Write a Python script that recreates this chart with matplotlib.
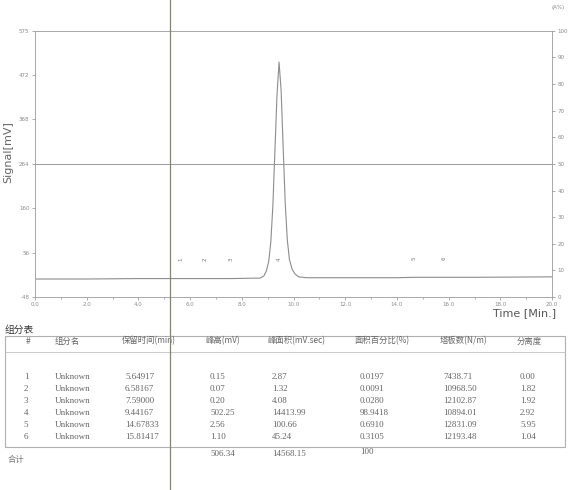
import matplotlib
matplotlib.use("Agg")
import matplotlib.pyplot as plt
from matplotlib.lines import Line2D
from matplotlib.patches import Rectangle

# ---- chromatogram data ----
time_min = [0.0, 2.0, 4.0, 5.65, 6.58, 7.59, 8.5, 8.7, 8.85, 8.95, 9.04, 9.12, 9.20,
            9.28, 9.36, 9.44, 9.52, 9.60, 9.68, 9.76, 9.84, 9.94, 10.05, 10.2, 10.5,
            12.0, 14.0, 14.68, 15.81, 17.0, 20.0]
signal_mv = [-6, -6, -5, -5, -5, -5, -4, -4, 1, 13, 35, 80, 165,
             295, 425, 502, 435, 300, 170, 85, 40, 18, 6, -1, -3,
             -3, -3, -2, -2, -2, -1]
ref_level = 264

peak_ids = ["1", "2", "3", "4", "5", "6"]
peak_rt = [5.64917, 6.58167, 7.59000, 9.44167, 14.67833, 15.81417]
peak_label_y = [40, 40, 40, 40, 42, 42]

x_ticks = [0, 2, 4, 6, 8, 10, 12, 14, 16, 18, 20]
x_ticklabels = ["0.0", "2.0", "4.0", "6.0", "8.0", "10.0", "12.0", "14.0", "16.0", "18.0", "20.0"]
y_ticks = [-48, 56, 160, 264, 368, 472, 575]
y_ticklabels = ["-48", "56", "160", "264", "368", "472", "575"]
r_ticks = [0, 10, 20, 30, 40, 50, 60, 70, 80, 90, 100]

# ---- table data ----
tbl_title = "组分表"
tbl_headers = ["#", "组分名", "保留时间(min)", "峰高(mV)", "峰面积(mV.sec)", "面积百分比(%)", "塔板数(N/m)", "分离度"]
row_idx = ["1", "2", "3", "4", "5", "6"]
row_name = ["Unknown"] * 6
row_rt = ["5.64917", "6.58167", "7.59000", "9.44167", "14.67833", "15.81417"]
row_height = ["0.15", "0.07", "0.20", "502.25", "2.56", "1.10"]
row_area = ["2.87", "1.32", "4.08", "14413.99", "100.66", "45.24"]
row_pct = ["0.0197", "0.0091", "0.0280", "98.9418", "0.6910", "0.3105"]
row_plates = ["7438.71", "10968.50", "12102.87", "10894.01", "12831.09", "12193.48"]
row_res = ["0.00", "1.82", "1.92", "2.92", "5.95", "1.04"]
total_label = "合计"
total_height = "506.34"
total_area = "14568.15"
total_pct = "100"

cjk = ["Noto Sans CJK SC", "DejaVu Sans"]
serif = ["Liberation Serif", "Noto Sans CJK SC"]
plt.rcParams['font.family'] = ["DejaVu Sans", "Noto Sans CJK SC"]

fig = plt.figure(figsize=(5.83, 4.90), dpi=100)
fig.patch.set_facecolor("white")

spine_c = "#a8a8a8"
tick_c = "#8a8a8a"

ax = fig.add_axes([0.060, 0.394, 0.887, 0.543])
ax.plot(time_min, signal_mv, color="#8c8c8c", lw=0.8)
ax.axhline(ref_level, color="#9a9a9a", lw=0.7)
for pid, rt, ly in zip(peak_ids, peak_rt, peak_label_y):
    ax.text(rt, ly, pid, rotation=90, fontsize=4, color="#777777", ha="center", va="center")
ax.set_xlim(0, 20)
ax.set_ylim(-48, 575)
ax.set_xticks(x_ticks)
ax.set_xticklabels(x_ticklabels)
ax.set_xticks([1, 3, 5, 7, 9, 11, 13, 15, 17, 19], minor=True)
ax.set_yticks(y_ticks)
ax.set_yticklabels(y_ticklabels)
ax.tick_params(axis="both", labelsize=4, colors=tick_c, length=2.5, width=0.5, pad=1.5)
ax.tick_params(axis="x", which="minor", length=1.5, width=0.5, colors=tick_c)
for s in ax.spines.values():
    s.set_color(spine_c)
    s.set_linewidth(0.7)

ax2 = ax.twinx()
ax2.set_ylim(0, 100)
ax2.set_yticks(r_ticks)
ax2.tick_params(axis="y", labelsize=4, colors=tick_c, length=2.5, width=0.5, pad=1.5)
for s in ax2.spines.values():
    s.set_visible(False)

fig.text(0.014, 0.69, "Signal[mV]", rotation=90, fontsize=8, color="#666666", ha="center", va="center")
fig.text(0.900, 0.362, "Time [Min.]", fontsize=8, color="#555555", ha="center", va="center")
fig.text(0.957, 0.985, "(A%)", fontsize=4, color="#888888", ha="center", va="center")

# ---- table drawn in pixel coordinates ----
tx = fig.add_axes([0, 0, 1, 1], zorder=-1)
tx.set_xlim(0, 583)
tx.set_ylim(490, 0)
tx.axis("off")

tx.text(5, 330, tbl_title, fontsize=7, color="#333333", family=cjk, va="center", ha="left")
tx.add_patch(Rectangle((5, 336), 560, 111, fill=False, edgecolor="#b0b0b0", lw=0.8))
tx.plot([5, 565], [352, 352], color="#c0c0c0", lw=0.6)

hdr_x = [28, 55, 122, 205, 267, 355, 440, 517]
hdr_ha = ["center", "left", "left", "left", "left", "left", "left", "left"]
for h, x, ha in zip(tbl_headers, hdr_x, hdr_ha):
    tx.text(x, 341, h, fontsize=6, color="#666666", family=cjk, ha=ha, va="center")

row_y = [377, 389, 401, 413, 425, 437]
cols = [(row_idx, 26, "center"), (row_name, 55, "left"), (row_rt, 125, "left"),
        (row_height, 210, "left"), (row_area, 272, "left"), (row_pct, 360, "left"),
        (row_plates, 443, "left"), (row_res, 520, "left")]
for vals, x, ha in cols:
    for v, y in zip(vals, row_y):
        tx.text(x, y, v, fontsize=6.5, color="#666666", family=serif, ha=ha, va="center")

tx.text(8, 459, total_label, fontsize=6, color="#777777", family=cjk, ha="left", va="center")
tx.text(210, 454, total_height, fontsize=6.5, color="#666666", family=serif, ha="left", va="center")
tx.text(272, 454, total_area, fontsize=6.5, color="#666666", family=serif, ha="left", va="center")
tx.text(360, 452, total_pct, fontsize=6.5, color="#666666", family=serif, ha="left", va="center")

# scan fold line visible in the reference
fig.add_artist(Line2D([170 / 583, 170 / 583], [0, 1], color="#85856c", lw=0.9))

fig.savefig("out.png", dpi=100, facecolor="white")
